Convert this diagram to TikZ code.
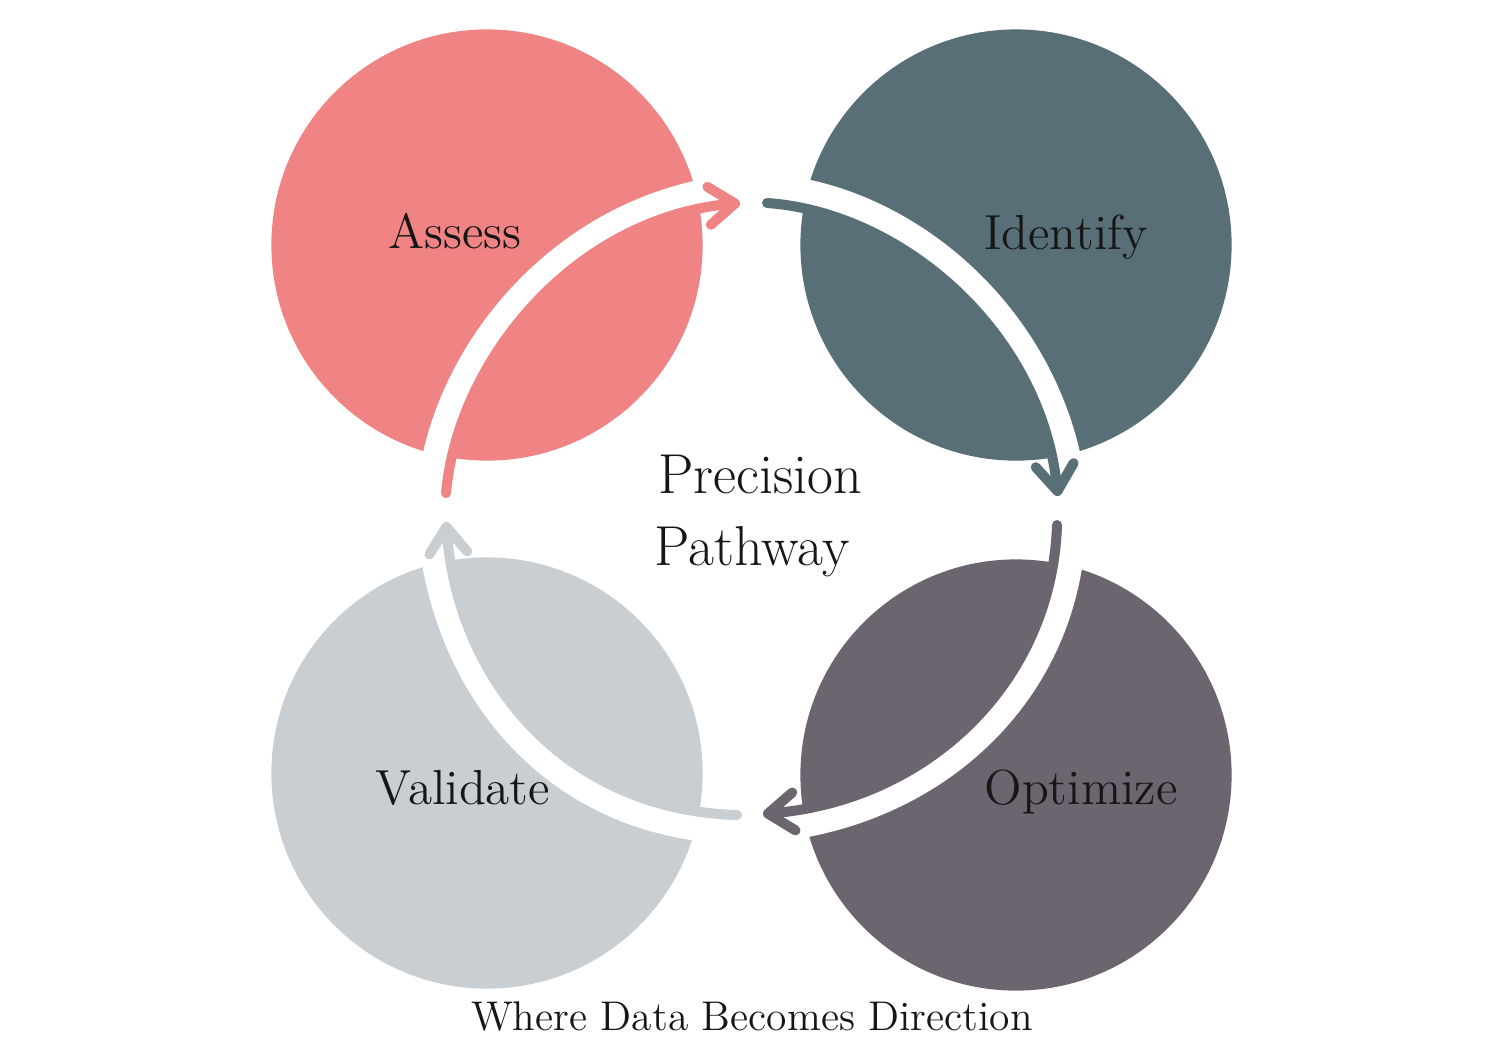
\documentclass[tikz,border=0pt]{standalone}
\usepackage{fontspec}
\usepackage{xcolor}
\usepackage{tikz}
\usetikzlibrary{arrows.meta}
\definecolor{AssessPink}{RGB}{240, 132, 132}
\definecolor{IdentifySlate}{RGB}{89, 111, 119}
\definecolor{OptimizePlum}{RGB}{108, 101, 112}
\definecolor{ValidateMist}{RGB}{201, 206, 210}
\definecolor{InkBlack}{RGB}{22, 22, 22}

\begin{document}
\begin{tikzpicture}[
    x=0.01cm, y=-0.01cm,
    stage/.style={
        circle, inner sep=0pt, minimum size=4.31cm
    },
    word/.style={
        anchor=base, text=InkBlack, inner sep=0pt,
        font=\fontsize{14}{16}\selectfont
    },
    title/.style={
        anchor=base, text=InkBlack, inner sep=0pt,
        font=\fontsize{16}{18}\selectfont
    },
    gap/.style={
        draw=white, line width=2.5mm,
        transform canvas={scale around={1.052:(752,509)}}
    },
    arrow/.style={line width=1mm, line cap=round, -{Straight Barb[length=2.6mm, width=3.8mm, round]}}
]
\useasboundingbox (0,0) rectangle (1506,1038);
\fill[white] (0,0) rectangle (1506,1038);

% Circles
\node[stage, fill=AssessPink] (assess) at (487,245) {};
\node[stage, fill=IdentifySlate] (identify) at (1016,245) {};
\node[stage, fill=OptimizePlum] (optimize) at (1016,775) {};
\node[stage, fill=ValidateMist] (validate) at (487,773) {};

% Arrow ends
\coordinate (pinkTail) at (446,493);
\coordinate (pinkTip) at (740,203);
\coordinate (slateTail) at (767,203);
\coordinate (slateTip) at (1058,496);
\coordinate (plumTail) at (1057,525);
\coordinate (plumTip) at (763,814);
\coordinate (mistTail) at (737,815);
\coordinate (mistTip) at (446,522);

% White gaps
\draw[gap] (pinkTail) .. controls (458,360) and (575,218) .. (pinkTip);
\draw[gap] (slateTail) .. controls (900,212) and (1040,330) .. (slateTip);
\draw[gap] (plumTail) .. controls (1052,680) and (930,800) .. (plumTip);
\draw[gap] (mistTail) .. controls (565,810) and (458,680) .. (mistTip);

% Paths
\draw[arrow, AssessPink] (pinkTail) .. controls (458,360) and (575,218) .. (pinkTip);
\draw[arrow, IdentifySlate] (slateTail) .. controls (900,212) and (1040,330) .. (slateTip);
\draw[arrow, OptimizePlum] (plumTail) .. controls (1052,680) and (930,800) .. (plumTip);
\draw[arrow, ValidateMist] (mistTail) .. controls (565,810) and (458,680) .. (mistTip);

% Labels
\node[word] (assessText) at (455,248) {Assess};
\node[word] (identifyText) at (1066,249) {Identify};
\node[word] (optimizeText) at (1081,804) {Optimize};
\node[word] (validateText) at (463,804) {Validate};
\node[title] (precision) at (760,493) {Precision};
\node[title] (pathway) at (752,565) {Pathway};
\node[word, font=\fontsize{11.8}{14}\selectfont] (tagline) at (752,1030) {Where Data Becomes Direction};

\end{tikzpicture}
\end{document}
